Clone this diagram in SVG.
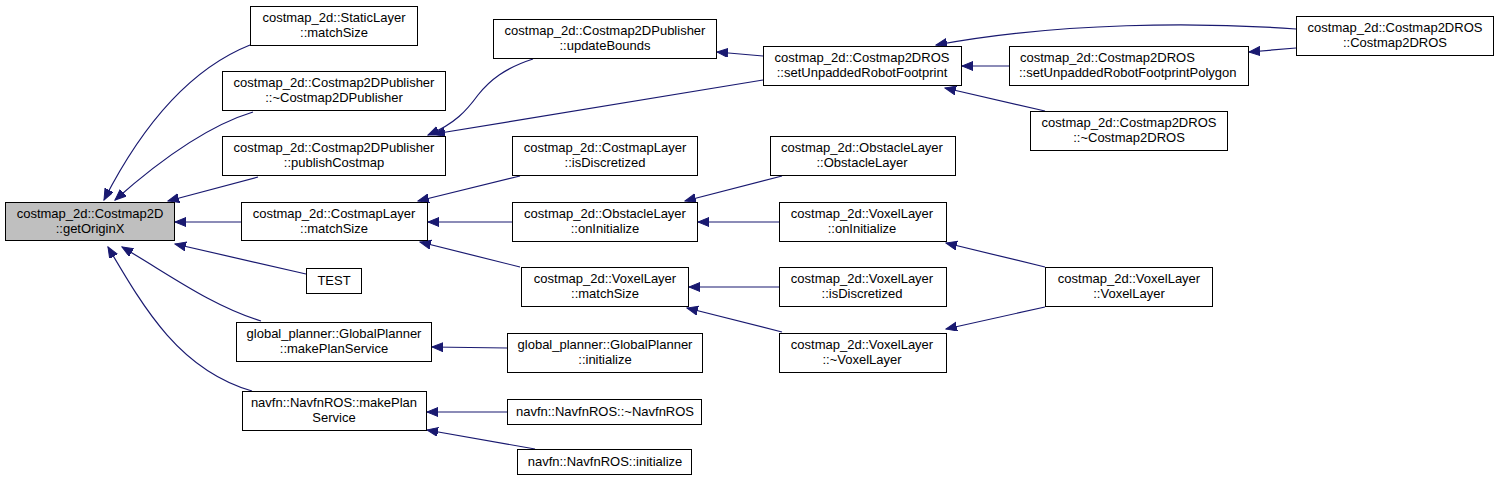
<svg xmlns="http://www.w3.org/2000/svg" width="1499" height="481" viewBox="0 0 1499 481">
<style>
.n rect{fill:#fff;stroke:#000;stroke-width:1}
.n text{font-family:"Liberation Sans",Arial,sans-serif;font-size:13px;fill:#000;text-anchor:middle}
.n text.l{text-anchor:start}
#edges path{fill:none;stroke:#191970;stroke-width:1.2}
</style>
<defs>
<marker id="a" markerUnits="userSpaceOnUse" markerWidth="12" markerHeight="10" refX="11" refY="4.5" orient="auto">
<path d="M0,0 L11,4.5 L0,9 z" fill="#191970" stroke="#191970" stroke-width="1"/>
</marker>
</defs>
<rect width="1499" height="481" fill="#fff"/>
<g id="edges">
<path d="M250,45 C200,65 150,110 104,200" marker-end="url(#a)"/>
<path d="M253,112 C210,125 160,160 115,200" marker-end="url(#a)"/>
<path d="M258,177 L168,201" marker-end="url(#a)"/>
<path d="M241,222 L175,222" marker-end="url(#a)"/>
<path d="M306,274 L175,244" marker-end="url(#a)"/>
<path d="M261,321 C210,305 170,275 122,247" marker-end="url(#a)"/>
<path d="M252,391 C180,370 145,310 108,247" marker-end="url(#a)"/>
<path d="M533,59 C505,68 490,80 478,95 C467,110 455,124 428,135" marker-end="url(#a)"/>
<path d="M763,80 L434,134" marker-end="url(#a)"/>
<path d="M763,56 L717,52" marker-end="url(#a)"/>
<path d="M1296,29 C1200,22 1060,22 936,45" marker-end="url(#a)"/>
<path d="M1009,66 L962,66" marker-end="url(#a)"/>
<path d="M1296,48 L1249,52" marker-end="url(#a)"/>
<path d="M1045,111 L945,88" marker-end="url(#a)"/>
<path d="M520,176 L418,201" marker-end="url(#a)"/>
<path d="M512,222 L428,222" marker-end="url(#a)"/>
<path d="M520,267 L420,242" marker-end="url(#a)"/>
<path d="M782,176 L685,201" marker-end="url(#a)"/>
<path d="M779,222 L698,222" marker-end="url(#a)"/>
<path d="M779,287 L689,287" marker-end="url(#a)"/>
<path d="M782,332 L687,308" marker-end="url(#a)"/>
<path d="M1045,267 L946,243" marker-end="url(#a)"/>
<path d="M1045,307 L946,329" marker-end="url(#a)"/>
<path d="M507,348 L432,347" marker-end="url(#a)"/>
<path d="M507,412 L427,412" marker-end="url(#a)"/>
<path d="M535,449 L427,430" marker-end="url(#a)"/>
</g>
<g id="n_getOriginX" class="n"><rect x="5.5" y="202.5" width="169" height="38" style="fill:#bfbfbf"/><text x="90" y="218">costmap_2d::Costmap2D</text><text x="90" y="233">::getOriginX</text></g>
<g id="n_static_matchSize" class="n"><rect x="250.5" y="6.5" width="167" height="39"/><text x="334" y="22">costmap_2d::StaticLayer</text><text x="334" y="37">::matchSize</text></g>
<g id="n_pub_dtor" class="n"><rect x="222.5" y="71.5" width="223" height="39"/><text x="334" y="87">costmap_2d::Costmap2DPublisher</text><text x="334" y="102">::~Costmap2DPublisher</text></g>
<g id="n_pub_publish" class="n"><rect x="222.5" y="136.5" width="223" height="39"/><text x="334" y="152">costmap_2d::Costmap2DPublisher</text><text x="334" y="167">::publishCostmap</text></g>
<g id="n_cl_matchSize" class="n"><rect x="241.5" y="202.5" width="186" height="38"/><text x="334" y="218">costmap_2d::CostmapLayer</text><text x="334" y="233">::matchSize</text></g>
<g id="n_test" class="n"><rect x="306.5" y="268.5" width="55" height="25"/><text x="334" y="285">TEST</text></g>
<g id="n_gp_mps" class="n"><rect x="236.5" y="322.5" width="195" height="39"/><text x="334" y="338">global_planner::GlobalPlanner</text><text x="334" y="353">::makePlanService</text></g>
<g id="n_nf_mps" class="n"><rect x="242.5" y="391.5" width="184" height="39"/><text x="334" y="407">navfn::NavfnROS::makePlan</text><text x="334" y="422">Service</text></g>
<g id="n_pub_update" class="n"><rect x="493.5" y="19.5" width="223" height="39"/><text x="605" y="35">costmap_2d::Costmap2DPublisher</text><text x="605" y="50">::updateBounds</text></g>
<g id="n_ros_setfp" class="n"><rect x="763.5" y="46.5" width="198" height="39"/><text x="862" y="62">costmap_2d::Costmap2DROS</text><text x="862" y="77">::setUnpaddedRobotFootprint</text></g>
<g id="n_ros_setfpp" class="n"><rect x="1009.5" y="46.5" width="239" height="39"/><text class="l" x="1020" y="62">costmap_2d::Costmap2DROS</text><text class="l" x="1019" y="77">::setUnpaddedRobotFootprintPolygon</text></g>
<g id="n_ros_ctor" class="n"><rect x="1296.5" y="16.5" width="197" height="39"/><text x="1395" y="32">costmap_2d::Costmap2DROS</text><text x="1395" y="47">::Costmap2DROS</text></g>
<g id="n_ros_dtor" class="n"><rect x="1030.5" y="111.5" width="197" height="39"/><text x="1129" y="127">costmap_2d::Costmap2DROS</text><text x="1129" y="142">::~Costmap2DROS</text></g>
<g id="n_cl_isdisc" class="n"><rect x="512.5" y="136.5" width="185" height="39"/><text x="605" y="152">costmap_2d::CostmapLayer</text><text x="605" y="167">::isDiscretized</text></g>
<g id="n_ol_oninit" class="n"><rect x="512.5" y="202.5" width="185" height="39"/><text x="605" y="218">costmap_2d::ObstacleLayer</text><text x="605" y="233">::onInitialize</text></g>
<g id="n_vl_matchSize" class="n"><rect x="521.5" y="267.5" width="167" height="39"/><text x="605" y="283">costmap_2d::VoxelLayer</text><text x="605" y="298">::matchSize</text></g>
<g id="n_gp_init" class="n"><rect x="507.5" y="333.5" width="195" height="39"/><text x="605" y="349">global_planner::GlobalPlanner</text><text x="605" y="364">::initialize</text></g>
<g id="n_nf_dtor" class="n"><rect x="507.5" y="399.5" width="194" height="25"/><text x="605" y="416">navfn::NavfnROS::~NavfnROS</text></g>
<g id="n_nf_init" class="n"><rect x="517.5" y="449.5" width="174" height="25"/><text x="605" y="466">navfn::NavfnROS::initialize</text></g>
<g id="n_ol_ctor" class="n"><rect x="770.5" y="136.5" width="185" height="39"/><text x="862" y="152">costmap_2d::ObstacleLayer</text><text x="862" y="167">::ObstacleLayer</text></g>
<g id="n_vl_oninit" class="n"><rect x="779.5" y="202.5" width="167" height="39"/><text x="862" y="218">costmap_2d::VoxelLayer</text><text x="862" y="233">::onInitialize</text></g>
<g id="n_vl_isdisc" class="n"><rect x="779.5" y="267.5" width="167" height="39"/><text x="862" y="283">costmap_2d::VoxelLayer</text><text x="862" y="298">::isDiscretized</text></g>
<g id="n_vl_dtor" class="n"><rect x="779.5" y="333.5" width="167" height="39"/><text x="862" y="349">costmap_2d::VoxelLayer</text><text x="862" y="364">::~VoxelLayer</text></g>
<g id="n_vl_ctor" class="n"><rect x="1045.5" y="267.5" width="167" height="39"/><text x="1129" y="283">costmap_2d::VoxelLayer</text><text x="1129" y="298">::VoxelLayer</text></g>
</svg>
